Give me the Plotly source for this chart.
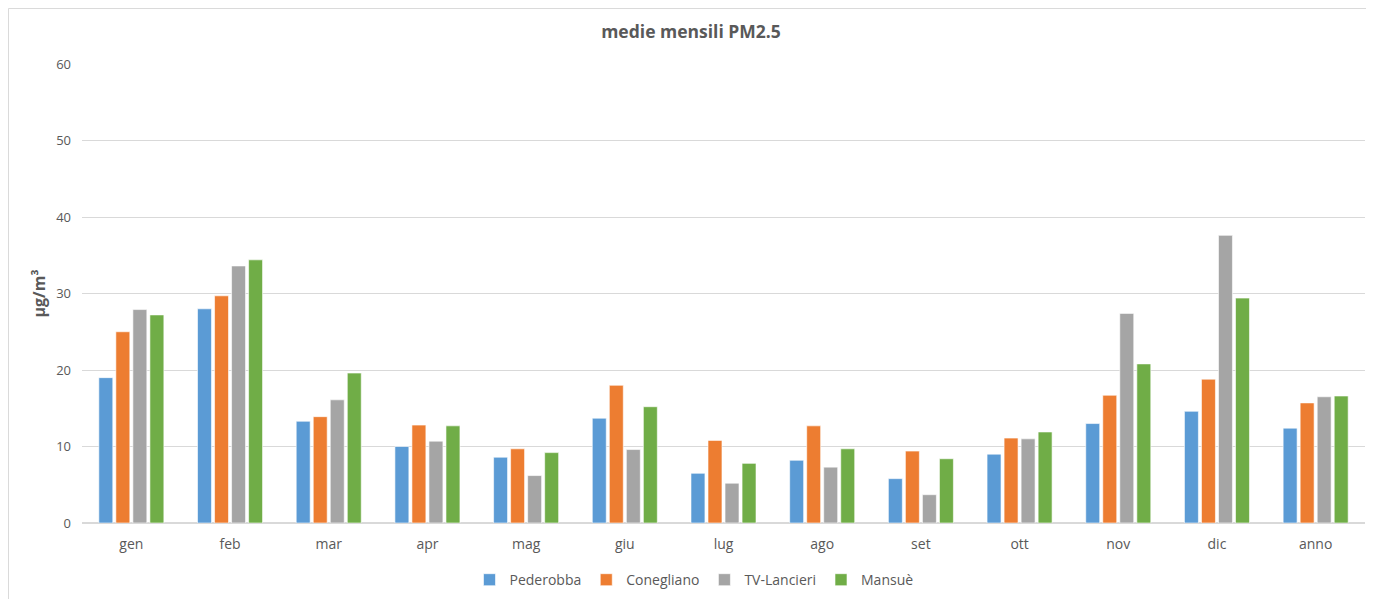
import plotly.graph_objects as go

# data
mesi = ['gen', 'feb', 'mar', 'apr', 'mag', 'giu', 'lug', 'ago', 'set', 'ott', 'nov', 'dic', 'anno']
pederobba = [19.0, 28.0, 13.3, 10.0, 8.6, 13.7, 6.5, 8.2, 5.8, 9.0, 13.0, 14.6, 12.4]
conegliano = [25.0, 29.7, 13.9, 12.8, 9.7, 18.0, 10.8, 12.7, 9.4, 11.1, 16.7, 18.8, 15.7]
tv_lancieri = [27.9, 33.6, 16.1, 10.7, 6.2, 9.6, 5.2, 7.3, 3.7, 11.0, 27.4, 37.6, 16.5]
mansue = [27.2, 34.4, 19.6, 12.7, 9.2, 15.2, 7.8, 9.7, 8.4, 11.9, 20.8, 29.4, 16.6]

serie = [('Pederobba', pederobba, '#5B9BD5'),
         ('Conegliano', conegliano, '#ED7D31'),
         ('TV-Lancieri', tv_lancieri, '#A5A5A5'),
         ('Mansuè', mansue, '#70AD47')]

fig = go.Figure()
for nome, valori, colore in serie:
    fig.add_trace(go.Bar(x=mesi, y=valori, name=nome,
                         marker=dict(color=colore, line=dict(color='white', width=0.6))))

testo = '#595959'
# the page adds an 8px body margin, so the figure is a bit smaller than the window
fig.update_layout(
    barmode='group',
    bargap=0.31,
    bargroupgap=0.18,
    width=1366, height=591,
    margin=dict(l=74, r=9, t=56, b=76),
    paper_bgcolor='white',
    plot_bgcolor='white',
    font=dict(family='Open Sans, Liberation Sans, sans-serif', size=12, color=testo),
    title=dict(text='<b>medie mensili PM2.5</b>', x=0.5, xanchor='center',
               y=0.959, yanchor='middle', font=dict(size=17.5, color=testo)),
    legend=dict(orientation='h', x=0.477, xanchor='center',
                yref='container', y=0.032, yanchor='middle',
                font=dict(size=14, color=testo), itemwidth=30, traceorder='normal'),
    showlegend=True,
)
fig.update_yaxes(range=[0, 60], dtick=10, showgrid=True, gridcolor='#D9D9D9', gridwidth=1,
                 zeroline=True, zerolinecolor='#D9D9D9', showline=False,
                 tickfont=dict(size=13, color=testo), ticklabelstandoff=10,
                 title=dict(text='<b>µg/m³</b>', standoff=6, font=dict(size=16, color=testo)))
fig.update_xaxes(showline=True, linecolor='#D9D9D9', showgrid=False,
                 tickfont=dict(size=14, color=testo), ticklabelstandoff=8)

# cornice dell'area grafico
fig.add_shape(type='rect', xref='paper', yref='paper',
              x0=-0.0573, x1=1.0039, y0=-0.2, y1=1.121,
              line=dict(color='#D9D9D9', width=1), fillcolor='rgba(0,0,0,0)', layer='below')

fig.write_html("out.html")
